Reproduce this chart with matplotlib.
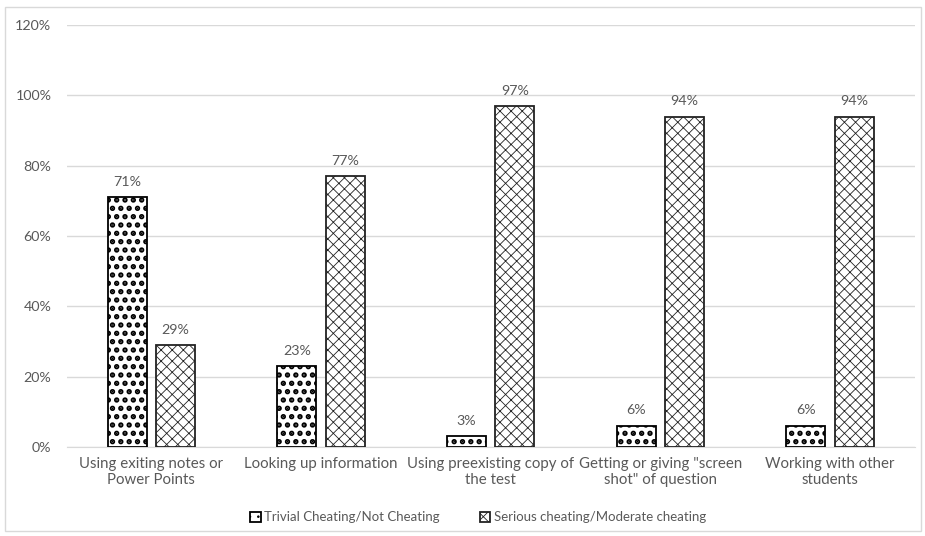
import matplotlib.pyplot as plt
import matplotlib as mpl
import numpy as np
from matplotlib.patches import Rectangle

plt.rcParams['font.family'] = ['Lato', 'DejaVu Sans']
plt.rcParams['hatch.linewidth'] = 0.6

CATEGORIES = ['Using exiting notes or\nPower Points',
              'Looking up information',
              'Using preexisting copy of\nthe test',
              'Getting or giving "screen\nshot" of question',
              'Working with other\nstudents']
TRIVIAL = [71, 23, 3, 6, 6]
SERIOUS = [29, 77, 97, 94, 94]
SERIES_NAMES = ['Trivial Cheating/Not Cheating', 'Serious cheating/Moderate cheating']

TEXT_GRAY = '#595959'
GRID_GRAY = '#d9d9d9'

fig = plt.figure(figsize=(9.25, 5.36), dpi=100)
ax = fig.add_axes([0.072, 0.166, 0.917, 0.787])

x = np.arange(len(CATEGORIES))
w = 0.23
off = 0.142

with mpl.rc_context({'hatch.linewidth': 2.6}):
    barsT = ax.bar(x - off, TRIVIAL, w, facecolor='white', edgecolor='black',
                   linewidth=1.3, hatch='..', label=SERIES_NAMES[0], zorder=3)
barsS = ax.bar(x + off, SERIOUS, w, facecolor='white', edgecolor='#222222',
               linewidth=1.3, hatch='xxx', label=SERIES_NAMES[1], zorder=3)
for b in barsT:
    if hasattr(b, 'set_hatch_linewidth'):
        b.set_hatch_linewidth(2.6)

for bars, vals in ((barsT, TRIVIAL), (barsS, SERIOUS)):
    for b, v in zip(bars, vals):
        ax.text(b.get_x() + b.get_width() / 2, v + 2.7, f'{v}%', ha='center',
                va='bottom', fontsize=10.3, color=TEXT_GRAY)

ax.set_xlim(-0.5, len(CATEGORIES) - 0.5)
ax.set_ylim(0, 120)
ax.set_yticks(range(0, 121, 20))
ax.set_yticklabels([f'{v}%' for v in range(0, 121, 20)])
ax.set_xticks(x)
ax.set_xticklabels(CATEGORIES)
ax.tick_params(axis='y', length=0, labelsize=10.3, colors=TEXT_GRAY, pad=11)
ax.tick_params(axis='x', length=0, labelsize=10.8, colors=TEXT_GRAY, pad=7)
ax.grid(axis='y', color=GRID_GRAY, linewidth=1, zorder=0)
for s in ['top', 'right', 'left']:
    ax.spines[s].set_visible(False)
ax.spines['bottom'].set_color(GRID_GRAY)

leg = fig.legend(loc='center', bbox_to_anchor=(0.517, 0.035), ncol=2, frameon=False,
                 fontsize=9.5, handlelength=0.8, handleheight=0.8, handletextpad=0.3,
                 columnspacing=3.0, labelcolor=TEXT_GRAY)

fig.patches.append(Rectangle((5 / 925, 5 / 536), 916 / 925, 524 / 536,
                             transform=fig.transFigure, fill=False,
                             edgecolor=GRID_GRAY, linewidth=1))

fig.savefig('out.png', dpi=100)
